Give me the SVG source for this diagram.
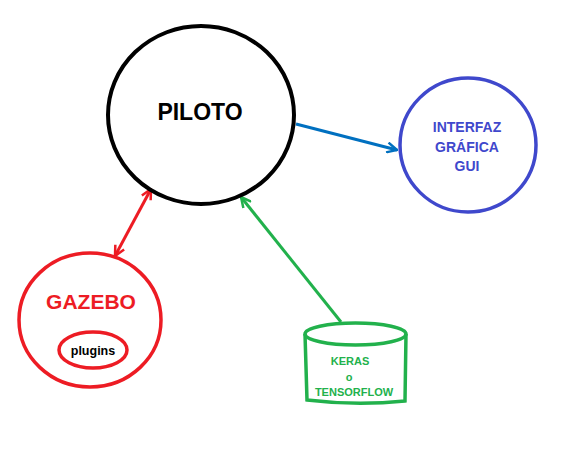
<svg xmlns="http://www.w3.org/2000/svg" width="561" height="451" viewBox="0 0 561 451">
<style>
  text { font-family: "Liberation Sans", Arial, sans-serif; font-weight: bold; text-anchor: middle; }
  .node { fill: none; }
</style>
<defs>
  <marker id="arrRed" viewBox="0 0 12 12" refX="11" refY="6" markerWidth="12" markerHeight="12" markerUnits="userSpaceOnUse" orient="auto-start-reverse">
    <path d="M1,1 L11,6 L1,11" fill="none" stroke="#ED1C24" stroke-width="2.5"/>
  </marker>
  <marker id="arrBlue" viewBox="0 0 12 12" refX="11" refY="6" markerWidth="12" markerHeight="12" markerUnits="userSpaceOnUse" orient="auto">
    <path d="M1,1 L11,6 L1,11" fill="none" stroke="#0070C0" stroke-width="2.5"/>
  </marker>
  <marker id="arrGreen" viewBox="0 0 12 12" refX="11" refY="6" markerWidth="12" markerHeight="12" markerUnits="userSpaceOnUse" orient="auto">
    <path d="M1,1 L11,6 L1,11" fill="none" stroke="#22B14C" stroke-width="2.5"/>
  </marker>
</defs>
<rect width="561" height="451" fill="#ffffff"/>
<g id="connectors" fill="none" stroke-width="3">
  <line x1="151" y1="189" x2="115" y2="256" stroke="#ED1C24" marker-start="url(#arrRed)" marker-end="url(#arrRed)"/>
  <line x1="296" y1="124" x2="397" y2="150" stroke="#0070C0" marker-end="url(#arrBlue)"/>
  <line x1="341" y1="322" x2="241" y2="197" stroke="#22B14C" marker-end="url(#arrGreen)"/>
</g>
<g id="piloto">
  <ellipse cx="201" cy="115" rx="93" ry="89" class="node" stroke="#000000" stroke-width="4"/>
  <text x="200" y="120" font-size="23" fill="#000000">PILOTO</text>
</g>
<g id="interfaz">
  <ellipse cx="468" cy="145" rx="68" ry="67" class="node" stroke="#3F48CC" stroke-width="3.5"/>
  <text x="467" y="132" font-size="14" fill="#3F48CC">INTERFAZ</text>
  <text x="467" y="152" font-size="14" fill="#3F48CC">GRÁFICA</text>
  <text x="467" y="171" font-size="14" fill="#3F48CC">GUI</text>
</g>
<g id="gazebo">
  <ellipse cx="90" cy="320" rx="71" ry="67" class="node" stroke="#ED1C24" stroke-width="3.5"/>
  <text x="91" y="309" font-size="21" fill="#ED1C24">GAZEBO</text>
</g>
<g id="plugins">
  <ellipse cx="93" cy="350" rx="34" ry="18" class="node" stroke="#ED1C24" stroke-width="3.5"/>
  <text x="93" y="355" font-size="12.5" fill="#000000">plugins</text>
</g>
<g id="keras">
  <path d="M305,334 L307,400 Q356,406 405,401 L406,334" fill="none" stroke="#22B14C" stroke-width="3.5"/>
  <ellipse cx="355.5" cy="334" rx="50.5" ry="11" fill="none" stroke="#22B14C" stroke-width="3.5"/>
  <text x="350" y="365" font-size="11" fill="#22B14C">KERAS</text>
  <text x="349" y="381" font-size="11" fill="#22B14C">o</text>
  <text x="354" y="396" font-size="11" fill="#22B14C">TENSORFLOW</text>
</g>
</svg>
